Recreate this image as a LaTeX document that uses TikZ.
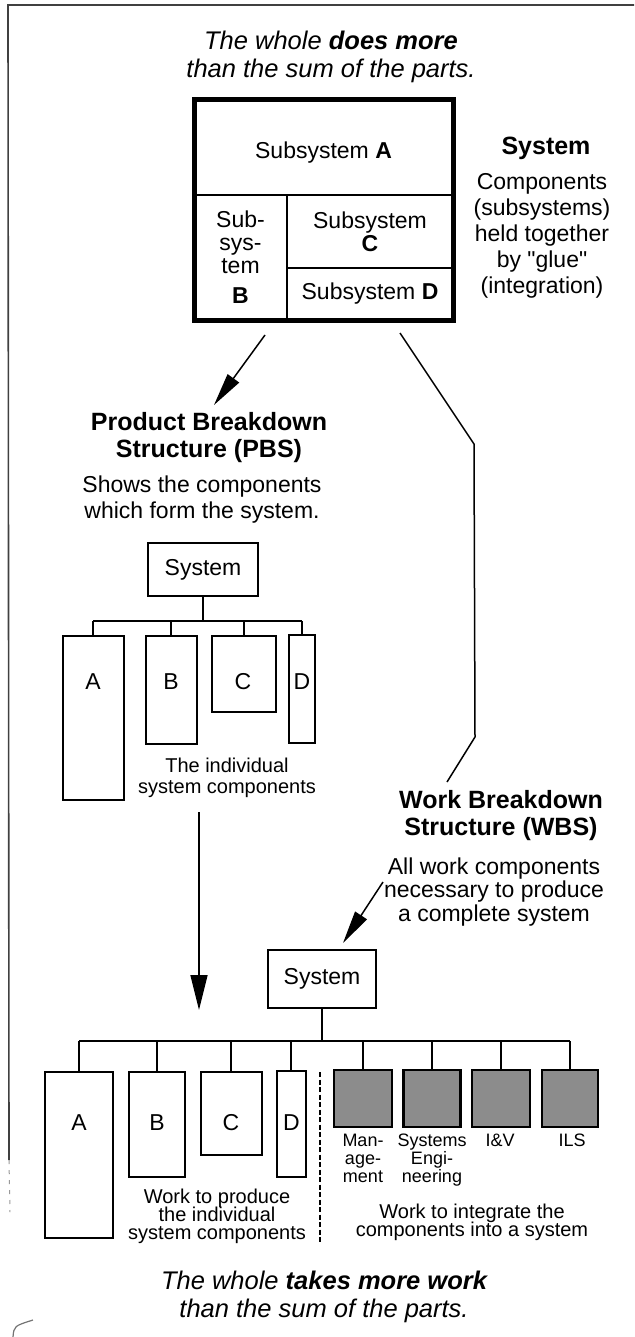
\documentclass[tikz,border=0pt]{standalone}
\usepackage{fontspec}
\setmainfont{Liberation Sans}
\newfontfamily\plainqfont{Liberation Sans}[Ligatures=TeXOff]
\usetikzlibrary{arrows.meta,calc}
\tikzset{
  every node/.style={inner sep=0pt, outer sep=0pt},
  ital/.style={align=center, font=\fontsize{25.5}{28}\selectfont\itshape},
  head/.style={align=center, font=\fontsize{25}{27}\selectfont\bfseries},
  txt/.style={align=center, font=\fontsize{23}{26}\selectfont},
  smalltxt/.style={align=center, font=\fontsize{20}{21}\selectfont},
  tighttxt/.style={align=center, font=\fontsize{20}{18}\selectfont},
  lbltxt/.style={align=center, font=\fontsize{18}{18}\selectfont},
  cell/.style={draw, line width=2pt, align=center, font=\fontsize{23}{23}\selectfont},
  outerbox/.style={draw, line width=5pt},
  box/.style={draw, line width=2pt},
  gbox/.style={draw, line width=2.6pt, fill=black!45},
  conn/.style={line width=1.5pt},
  tree/.style={line width=2pt},
  tip/.style={-{Triangle[length=33pt,width=14pt]}},
  frame/.style={line width=1.6pt, black!75},
  divider/.style={line width=1.4pt, dash pattern=on 5pt off 2.5pt},
}
\begin{document}
\setlength{\lineskiplimit}{-50pt}
\begin{tikzpicture}[x=1pt,y=-1pt]
\useasboundingbox (0,0) rectangle (634,1337);

% frame
\coordinate (fTL) at (8,5);
\coordinate (fTR) at (634,5);
\coordinate (fBL) at (9,1160);
\coordinate (fBL2) at (10,1212);
\draw[frame] (fTR) -- (fTL) -- (fBL);
\draw[line width=1pt, black!40, dash pattern=on 4pt off 6pt] (fBL) -- (fBL2);
\coordinate (cm1) at (13,1337);
\coordinate (cm2) at (33,1320);
\draw[line width=1.2pt, black!55] (cm1) .. controls (14,1326) .. (cm2);

% top text
\node[ital] (toptext) at (331,57) {The whole \textbf{does more}\\than the sum of the parts.};

% system block
\node[cell, minimum width=259pt, minimum height=95pt, text height=27pt] (subA) at (323.5,147.5) {Subsystem \textbf{A}};
\node[cell, minimum width=93pt, minimum height=125pt] (subB) at (240.5,257.5) {Sub-\\sys-\\tem\\[7pt]\textbf{B}};
\node[cell, minimum width=166pt, minimum height=73pt] (subC) at (370,231.5) {Subsystem\\\textbf{C}};
\node[cell, minimum width=166pt, minimum height=52pt] (subD) at (370,294) {Subsystem \textbf{D}};
\node[outerbox, minimum width=259pt, minimum height=220pt] (sys) at (323.5,210) {};

\node[head] (systitle) at (546,148) {System};
\node[txt] (sysdesc) at (542,236) {Components\\(subsystems)\\held together\\by {\plainqfont"}glue{\plainqfont"}\\(integration)};

% PBS arrow and WBS line
\coordinate (a1s) at (265,335);
\coordinate (a1e) at (214,405);
\draw[conn, tip] (a1s) -- (a1e);
\coordinate (w1) at (400,333);
\coordinate (w2) at (474,444);
\coordinate (w3) at (475,737);
\coordinate (w4) at (447,782);
\draw[conn] (w1) -- (w2) -- (w3) -- (w4);

% PBS
\node[head] (pbstitle) at (209,438) {Product Breakdown\\Structure (PBS)};
\node[txt] (pbsdesc) at (202,500) {Shows the components\\which form the system.};
\node[box, txt, minimum width=110pt, minimum height=53pt] (psys) at (203,569.5) {System};
\node[box, minimum width=61pt, minimum height=164pt] (pA) at (93,718) {};
\node[box, minimum width=51pt, minimum height=108pt] (pB) at (171,690) {};
\node[box, minimum width=64pt, minimum height=76pt] (pC) at (244,674) {};
\node[box, minimum width=26pt, minimum height=108pt] (pD) at (302,689) {};
\node[txt] (pAt) at (93,682) {A};
\node[txt] (pBt) at (171,682) {B};
\node[txt] (pCt) at (243,682) {C};
\node[txt] (pDt) at (302,682) {D};
\coordinate (pbus) at (202,621);
\draw[tree] (psys.south) -- (psys.south |- pbus);
\draw[tree] (pA.north |- pbus) -- (pD.north |- pbus);
\foreach \n in {pA,pB,pC,pD} { \draw[tree] (\n.north |- pbus) -- (\n.north); }
\node[smalltxt] (pcap) at (227,778) {The individual\\system components};

% arrow PBS -> WBS
\coordinate (a3s) at (199,812);
\coordinate (a3e) at (199,1010);
\draw[conn, -{Triangle[length=35pt,width=17pt]}] (a3s) -- (a3e);

% WBS
\node[head] (wbstitle) at (501,816) {Work Breakdown\\Structure (WBS)};
\node[txt, font=\fontsize{23}{23.5}\selectfont] (wbsdesc) at (494,892) {All work components\\necessary to produce\\a complete system};
\coordinate (a4s) at (383,882);
\coordinate (a4e) at (343,943);
\draw[conn, tip] (a4s) -- (a4e);

\node[box, txt, minimum width=108pt, minimum height=58pt] (wsys) at (322,979) {System};
\node[box, minimum width=68pt, minimum height=166pt] (wA) at (79,1155) {};
\node[box, minimum width=56pt, minimum height=105pt] (wB) at (157,1124.5) {};
\node[box, minimum width=61pt, minimum height=83pt] (wC) at (231,1113.5) {};
\node[box, minimum width=29pt, minimum height=106pt] (wD) at (291,1124) {};
\node[txt] (wAt) at (79,1123) {A};
\node[txt] (wBt) at (157,1123) {B};
\node[txt] (wCt) at (231,1123) {C};
\node[txt] (wDt) at (291.5,1123) {D};
\node[gbox, minimum width=58pt, minimum height=57pt] (wM) at (363,1098.5) {};
\node[gbox, minimum width=57pt, minimum height=57pt] (wS) at (432,1098.5) {};
\node[gbox, minimum width=58pt, minimum height=57pt] (wI) at (501,1098.5) {};
\node[gbox, minimum width=56pt, minimum height=57pt] (wL) at (570,1098.5) {};
\coordinate (wbus) at (321,1041);
\draw[tree] (wsys.south) -- (wsys.south |- wbus);
\draw[tree] (wA.north |- wbus) -- (wL.north |- wbus);
\foreach \n in {wA,wB,wC,wD,wM,wS,wI,wL} { \draw[tree] (\n.north |- wbus) -- (\n.north); }
\coordinate (dv1) at (320,1072);
\coordinate (dv2) at (320,1243);
\draw[divider] (dv1) -- (dv2);

\node[lbltxt, anchor=north] (wMt) at (363,1134) {Man-\\age-\\ment};
\node[lbltxt, anchor=north] (wSt) at (432,1134) {Systems\\Engi-\\neering};
\node[lbltxt, anchor=north] (wIt) at (500,1134) {I\&V};
\node[lbltxt, anchor=north] (wLt) at (572,1134) {ILS};

\node[tighttxt] (wcapL) at (217,1216) {Work to produce\\the individual\\system components};
\node[tighttxt] (wcapR) at (472,1222.5) {Work to integrate the\\components into a system};

% bottom text
\node[ital] (bottext) at (324,1297) {The whole \textbf{takes more work}\\than the sum of the parts.};
\end{tikzpicture}
\end{document}
